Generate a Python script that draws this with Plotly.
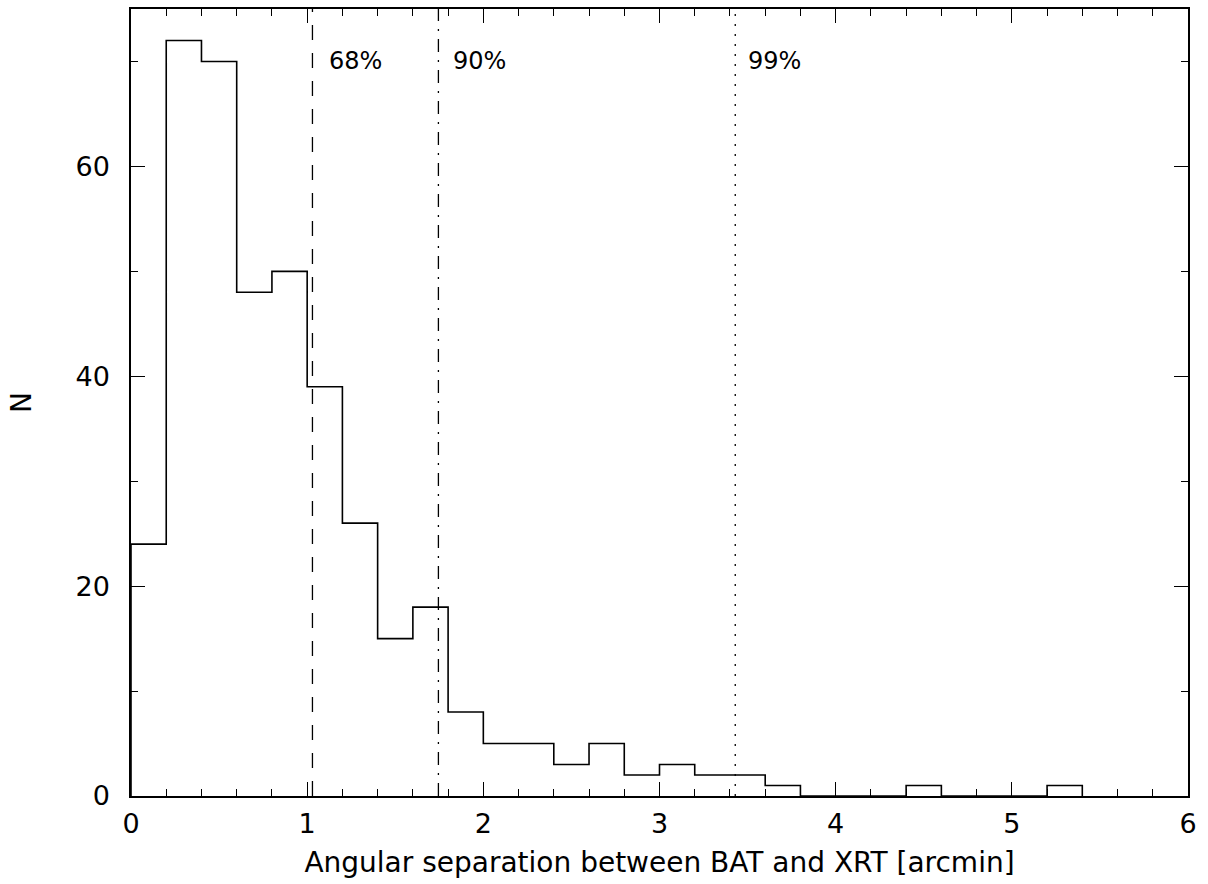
import plotly.graph_objects as go

# Histogram data (bin width 0.2 arcmin)
bin_edges = [round(0.2 * i, 1) for i in range(28)]  # 0.0 .. 5.4
counts = [24, 72, 70, 48, 50, 39, 26, 15, 18, 8, 5, 5, 3, 5, 2, 3, 2, 2, 1,
          0, 0, 0, 1, 0, 0, 0, 1]

# Containment radii
pct_values = [1.03, 1.745, 3.43]
pct_labels = ["68%", "90%", "99%"]
pct_label_x = [1.113, 1.814, 3.49]
pct_dash = ["15px,13px", "13px,8px,2px,8px", "2px,8px"]

x_ticks = [0, 1, 2, 3, 4, 5, 6]
y_ticks = [0, 20, 40, 60]

FONT = "DejaVu Sans"

# step outline
xs = [bin_edges[0]] + bin_edges[:len(counts)] + [bin_edges[len(counts)], bin_edges[len(counts)]]
ys = [0] + counts + [counts[-1], 0]

fig = go.Figure()
fig.add_trace(go.Scatter(x=xs, y=ys, mode="lines", line=dict(shape="hv", color="black", width=1.6),
                         showlegend=False, hoverinfo="skip"))

for v, lab, lx, d in zip(pct_values, pct_labels, pct_label_x, pct_dash):
    fig.add_shape(type="line", x0=v, x1=v, y0=0, y1=75, xref="x", yref="y",
                  line=dict(color="black", width=1.3, dash=d))
    fig.add_annotation(x=lx, y=70, text=lab, showarrow=False, xanchor="left", yanchor="middle",
                       font=dict(family=FONT, size=24, color="black"))

fig.update_layout(
    width=1208, height=884,
    margin=dict(l=131, r=20, t=7, b=88),
    paper_bgcolor="white", plot_bgcolor="white",
    font=dict(family=FONT, color="black"),
)
fig.update_xaxes(
    range=[0, 6], tickvals=x_ticks, ticks="inside", ticklen=14, tickwidth=1.3, tickcolor="black",
    minor=dict(dtick=0.2, ticks="inside", ticklen=7, tickwidth=1.2, tickcolor="black"),
    showline=True, linecolor="black", linewidth=1.5, mirror="ticks", showgrid=False, zeroline=False,
    tickfont=dict(size=27, family=FONT), ticklabelstandoff=3,
    title=dict(text="Angular separation between BAT and XRT [arcmin]", font=dict(size=28, family=FONT), standoff=14),
)
fig.update_yaxes(
    range=[0, 75], tickvals=y_ticks, ticks="inside", ticklen=14, tickwidth=1.3, tickcolor="black",
    minor=dict(dtick=10, ticks="inside", ticklen=7, tickwidth=1.2, tickcolor="black"),
    showline=True, linecolor="black", linewidth=1.5, mirror="ticks", showgrid=False, zeroline=False,
    tickfont=dict(size=27, family=FONT), ticklabelstandoff=14,
    title=dict(text="N", font=dict(size=28, family=FONT), standoff=36),
)

fig.write_html("out.html", config={"displayModeBar": False},
               post_script="document.body.style.margin='0';")
